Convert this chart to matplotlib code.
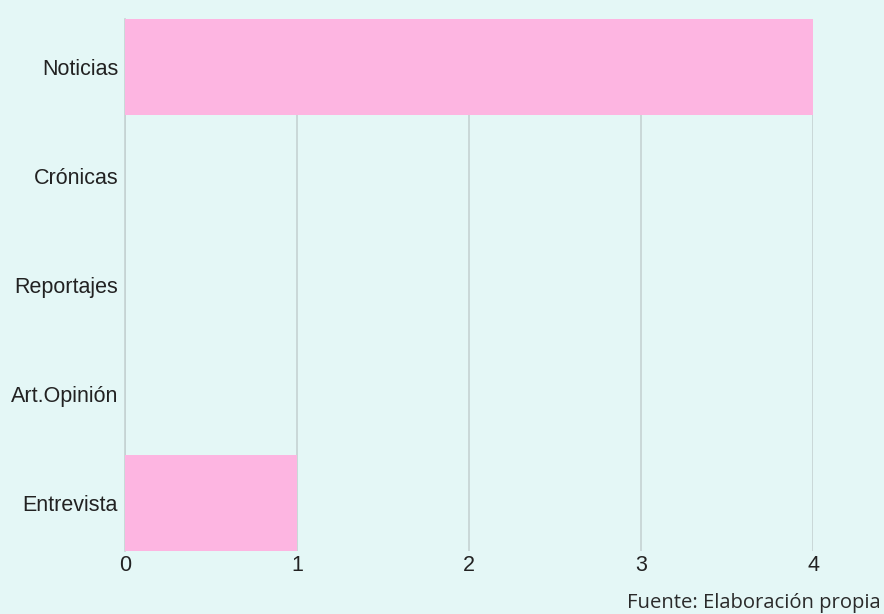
import matplotlib
matplotlib.use("Agg")
import matplotlib.pyplot as plt

categories = ["Noticias", "Crónicas", "Reportajes", "Art.Opinión", "Entrevista"]
values = [4, 0, 0, 0, 1]
xticks = [0, 1, 2, 3, 4]
source = "Fuente: Elaboración propia"

bg = "#E4F7F6"
bar_color = "#FDB5E1"
grid_color = "#C5D2D2"

fig = plt.figure(figsize=(8.84, 6.14), dpi=100, facecolor=bg)
ax = fig.add_axes([0.1414, 0.1026, 0.7783, 0.8664])
ax.set_facecolor(bg)

ypos = list(range(len(categories)))
ax.barh(ypos, values, height=0.88, color=bar_color, zorder=3)
ax.set_yticks(ypos)
ax.set_yticklabels(categories, fontsize=15.5, family="Liberation Sans", color="#222222")
ax.set_ylim(len(categories) - 0.56, -0.44)
ax.set_xlim(0, 4)
ax.set_xticks(xticks)
ax.set_xticklabels([str(t) for t in xticks], fontsize=15.5, family="Liberation Sans", color="#222222")
ax.tick_params(axis="y", length=0, pad=5)
ax.tick_params(axis="x", length=0, pad=3)
ax.xaxis.grid(True, color=grid_color, linewidth=1.2, zorder=0)
for s in ["top", "right", "bottom"]:
    ax.spines[s].set_visible(False)
ax.spines["left"].set_color(grid_color)
ax.spines["left"].set_linewidth(1.2)

fig.text(0.996, 0.009, source, ha="right", va="baseline", fontsize=14.6, family="Open Sans", color="#2a2a2a")

fig.savefig("out.png", dpi=100, facecolor=bg)
